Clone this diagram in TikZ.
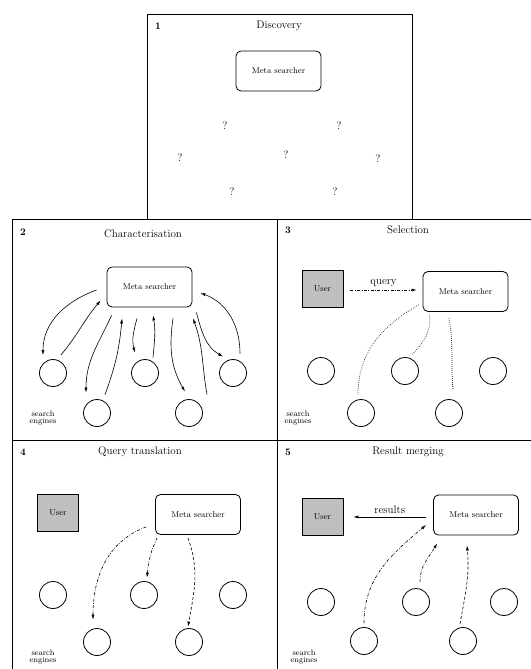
\documentclass[tikz,border=0pt]{standalone}
\usetikzlibrary{arrows.meta}
\begin{document}
\begin{tikzpicture}[x=1pt,y=1pt,
  frame/.style={draw,line width=0.9pt},
  meta/.style={draw,rounded corners=5pt,line width=0.8pt,minimum width=85pt,minimum height=40pt,inner sep=0pt,font=\fontsize{8.5}{10}\selectfont},
  user/.style={draw,fill=black!25,line width=0.8pt,minimum width=41pt,minimum height=37pt,inner sep=0pt,font=\fontsize{8.5}{10}\selectfont},
  eng/.style={draw,circle,minimum size=27pt,inner sep=0pt,line width=0.8pt},
  title/.style={font=\fontsize{11}{13}\selectfont},
  num/.style={font=\fontsize{10}{12}\selectfont\bfseries},
  qm/.style={font=\fontsize{11}{13}\selectfont},
  se/.style={font=\fontsize{8}{7.5}\selectfont,align=center,inner sep=0pt},
  lbl/.style={font=\fontsize{11}{13}\selectfont,inner sep=1pt},
  arr/.style={-{Latex[length=5pt,width=3pt]},line width=0.6pt},
  dd/.style={dash pattern=on 3pt off 1.5pt on 0.7pt off 1.5pt},
  ds/.style={dash pattern=on 3pt off 2pt},
  dt/.style={line width=0.7pt,dash pattern=on 0.6pt off 1.4pt},
]
\useasboundingbox (0,0) rectangle (530,-669);
% frames
\draw[frame] (147,-14) rectangle (412,-219);
\draw[frame] (12,-219) rectangle (277,-440);
\draw[frame] (277,-219) rectangle (533,-440);
\draw[frame] (12,-440) rectangle (277,-672);
\draw[frame] (277,-440) rectangle (533,-672);

% ---------- panel 1
\node[num] (n1) at (158,-26) {1};
\node[title] (t1) at (279,-26) {Discovery};
\node[meta] (m1) at (278.5,-71) {Meta searcher};
\node[qm] (q1) at (225,-126) {?};
\node[qm] (q2) at (339,-126) {?};
\node[qm] (q3) at (180,-158) {?};
\node[qm] (q4) at (286,-155) {?};
\node[qm] (q5) at (378,-159) {?};
\node[qm] (q6) at (232,-192) {?};
\node[qm] (q7) at (335,-192) {?};

% ---------- panel 2
\node[num] (n2) at (23,-232) {2};
\node[title] (t2) at (143,-234) {Characterisation};
\node[meta] (m2) at (149.5,-287) {Meta searcher};
\node[eng] (c2a) at (53,-373) {};
\node[eng] (c2b) at (145,-373) {};
\node[eng] (c2c) at (233,-373) {};
\node[eng] (c2d) at (97,-413) {};
\node[eng] (c2e) at (189,-413) {};
\node[se] (s2) at (43,-418) {search\\engines};
\draw[arr] ([shift={(-10,-3)}]m2.west) to[out=200,in=90] ([shift={(-10,4)}]c2a.north);
\draw[arr] ([shift={(1,6)}]c2a.60) to[out=50,in=230] ([shift={(-6,7)}]m2.south west);
\draw[arr] ([shift={(5,-8)}]m2.south west) to[out=245,in=90] ([shift={(-11,6.5)}]c2d.north);
\draw[arr] ([shift={(8,4.5)}]c2d.north) to[out=70,in=-95] ([shift={(-27.5,-11)}]m2.south);
\draw[arr] ([shift={(-12.5,-11)}]m2.south) to[out=255,in=105] ([shift={(-10,6.5)}]c2b.north);
\draw[arr] ([shift={(8,1.5)}]c2b.north) to[out=85,in=-80] ([shift={(3.5,-8)}]m2.south);
\draw[arr] ([shift={(23.5,-11)}]m2.south) to[out=262,in=120] ([shift={(-4,7.5)}]c2e.north);
\draw[arr] ([shift={(18,4.5)}]c2e.north) to[out=100,in=-70] ([shift={(43.5,-11)}]m2.south);
\draw[arr] ([shift={(4,-5)}]m2.south east) to[out=-75,in=150] ([shift={(-10,2.5)}]c2c.north);
\draw[arr] ([shift={(7,5.5)}]c2c.north) to[out=90,in=-20] ([shift={(8,-6)}]m2.east);

% ---------- panel 3
\node[num] (n3) at (288,-230) {3};
\node[title] (t3) at (408,-230) {Selection};
\node[user] (u3) at (322.5,-289) {User};
\node[meta] (m3) at (465.5,-291.5) {Meta searcher};
\node[eng] (c3a) at (321,-371) {};
\node[eng] (c3b) at (405,-371) {};
\node[eng] (c3c) at (493,-371) {};
\node[eng] (c3d) at (361,-413) {};
\node[eng] (c3e) at (449,-413) {};
\node[se] (s3) at (298,-418) {search\\engines};
\draw[arr,dd] ([shift={(7,-1)}]u3.east) -- node[lbl,above=2pt] (qy) {query} ([shift={(-6,1.5)}]m3.west);
\draw[dt] ([shift={(-4,7)}]m3.south west) to[out=210,in=90] ([shift={(-3,4.5)}]c3d.north);
\draw[dt] ([shift={(7,-3)}]m3.south west) to[out=-85,in=45] ([shift={(7,2.5)}]c3b.north);
\draw[dt] ([shift={(-16.5,-6.5)}]m3.south) to[out=-80,in=95] ([shift={(4,9.5)}]c3e.north);

% ---------- panel 4
\node[num] (n4) at (23,-452) {4};
\node[title] (t4) at (140,-452) {Query translation};
\node[user] (u4) at (58,-513) {User};
\node[meta] (m4) at (198,-514.5) {Meta searcher};
\node[eng] (c4a) at (53,-595) {};
\node[eng] (c4b) at (144,-595) {};
\node[eng] (c4c) at (233,-595) {};
\node[eng] (c4d) at (97,-642) {};
\node[eng] (c4e) at (189,-642) {};
\node[se] (s4) at (43,-657) {search\\engines};
\draw[arr,dd] ([shift={(-9,-12.5)}]m4.west) to[out=200,in=90] ([shift={(-4,8.5)}]c4d.north);
\draw[arr,dd] ([shift={(2,-3)}]m4.south west) to[out=-115,in=85] ([shift={(3,3.5)}]c4b.north);
\draw[arr,ds] ([shift={(-10,-3)}]m4.south) to[out=-70,in=80] ([shift={(-1,1.5)}]c4e.north);

% ---------- panel 5
\node[num] (n5) at (288,-452) {5};
\node[title] (t5) at (408,-452) {Result merging};
\node[user] (u5) at (322.5,-516.5) {User};
\node[meta] (m5) at (476,-515) {Meta searcher};
\node[eng] (c5a) at (321,-602) {};
\node[eng] (c5b) at (416,-602) {};
\node[eng] (c5c) at (504,-602) {};
\node[eng] (c5d) at (364,-641) {};
\node[eng] (c5e) at (463,-641) {};
\node[se] (s5) at (304,-657) {search\\engines};
\draw[arr] ([shift={(-7,-2)}]m5.west) -- node[lbl,above=2pt] (rs) {results} ([shift={(10,-0.5)}]u5.east);
\draw[arr,dd] ([shift={(0,4)}]c5d.north) to[out=90,in=220] ([shift={(-7,-10)}]m5.west);
\draw[arr,dd] ([shift={(4,6.5)}]c5b.north) to[out=90,in=240] ([shift={(4,-8)}]m5.south west);
\draw[arr,ds] ([shift={(-3,3)}]c5e.north) to[out=80,in=-85] ([shift={(-9,-10)}]m5.south);
\end{tikzpicture}
\end{document}
